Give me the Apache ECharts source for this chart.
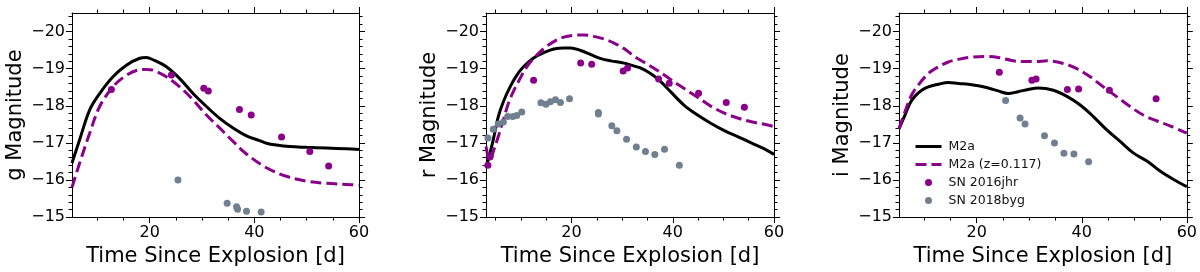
<!DOCTYPE html>
<html><head><meta charset="utf-8">
<script src="https://cdn.jsdelivr.net/npm/echarts@6/dist/echarts.min.js"></script>
<style>html,body{margin:0;padding:0;background:#fff}#c{width:1200px;height:272px}</style>
</head><body><div id="c"></div><script>
// ---- data ----
const xMajor = [20, 40, 60];
const xMinorA = [10, 15, 25, 30, 35, 45, 50, 55];
const xMinorB = [5, 10, 15, 25, 30, 35, 45, 50, 55];
const yMajor = [-20, -19, -18, -17, -16, -15];
const yMinor = [-20.4,-20.2,-19.8,-19.6,-19.4,-19.2,-18.8,-18.6,-18.4,-18.2,-17.8,-17.6,-17.4,-17.2,-16.8,-16.6,-16.4,-16.2,-15.8,-15.6,-15.4,-15.2];
const legendNames = ['M2a', 'M2a (z=0.117)', 'SN 2016jhr', 'SN 2018byg'];
const yNames = ['g Magnitude', 'r Magnitude', 'i Magnitude'];
const xName = 'Time Since Explosion [d]';

const gM2a = [[5.15,-16.46],[6.62,-17.09],[8.53,-17.89],[10.44,-18.33],[12.98,-18.78],[15.54,-19.09],[18.09,-19.28],[19.37,-19.30],[20.63,-19.24],[23.19,-19.05],[25.74,-18.73],[28.28,-18.33],[30.84,-17.98],[33.38,-17.66],[35.93,-17.40],[38.49,-17.19],[41.03,-17.06],[42.31,-16.99],[44.23,-16.94],[46.77,-16.90],[49.96,-16.88],[53.79,-16.86],[57.6,-16.84],[60,-16.82]];
const gM2aZ = [[5.15,-15.80],[6.62,-16.46],[8.53,-17.26],[10.44,-17.98],[12.98,-18.51],[15.54,-18.82],[18.09,-18.97],[19.37,-18.98],[20.63,-18.96],[23.19,-18.78],[25.74,-18.51],[28.28,-18.16],[30.84,-17.75],[33.38,-17.40],[35.93,-17.04],[38.49,-16.70],[42.31,-16.33],[46.1,-16.10],[49.96,-15.97],[53.79,-15.91],[57.6,-15.88],[60,-15.86]];
const gJhr = [[12.68,-18.44],[24.15,-18.83],[30.33,-18.47],[31.2,-18.40],[37.15,-17.90],[39.4,-17.75],[45.2,-17.16],[50.6,-16.77],[54.2,-16.38]];
const gByg = [[25.4,-16.0],[34.8,-15.37],[36.6,-15.28],[36.8,-15.21],[38.5,-15.16],[41.3,-15.14]];

const rM2a = [[3.1,-16.35],[3.54,-16.55],[4.54,-17.09],[5.53,-17.71],[6.53,-18.11],[7.86,-18.51],[9.17,-18.82],[10.5,-19.05],[12.5,-19.29],[14.5,-19.43],[16.5,-19.53],[18.47,-19.56],[19.8,-19.56],[21.8,-19.49],[23.8,-19.38],[25.8,-19.27],[27.76,-19.21],[30.4,-19.15],[32.4,-19.07],[33.6,-19.02],[35.6,-18.87],[37.57,-18.66],[39.56,-18.38],[42.2,-18.02],[44.9,-17.75],[47.5,-17.53],[50.2,-17.33],[52.8,-17.17],[55.5,-17.0],[58.1,-16.84],[60,-16.69]];
const rM2aZ = [[3.1,-16.9],[3.6,-16.6],[4.0,-16.55],[4.54,-16.77],[5.53,-17.17],[6.53,-17.62],[7.53,-18.07],[8.5,-18.38],[9.85,-18.74],[11.16,-19.05],[12.5,-19.27],[14.5,-19.54],[16.5,-19.73],[18.47,-19.85],[20.46,-19.90],[22.45,-19.91],[24.4,-19.87],[26.4,-19.80],[28.4,-19.69],[30.4,-19.54],[32.4,-19.33],[34.25,-19.18],[36.9,-18.96],[39.56,-18.71],[42.2,-18.47],[44.9,-18.23],[47.5,-17.99],[50.2,-17.80],[52.8,-17.67],[55.5,-17.57],[58.1,-17.5],[60,-17.44]];
const rJhr = [[3.48,-16.40],[3.88,-16.62],[12.5,-18.69],[21.8,-19.15],[23.98,-19.12],[30.2,-18.94],[31.07,-19.02],[37.2,-18.72],[39.3,-18.61],[45.1,-18.34],[50.57,-18.09],[54.15,-17.96]];
const rByg = [[3.48,-17.13],[4.54,-17.37],[5.53,-17.51],[6.53,-17.56],[7.38,-17.71],[8.38,-17.71],[9.17,-17.74],[10.17,-17.83],[13.95,-18.08],[14.95,-18.04],[15.82,-18.11],[16.82,-18.16],[17.8,-18.09],[19.6,-18.19],[25.3,-17.82],[25.3,-17.78],[27.96,-17.46],[28.96,-17.33],[30.87,-17.10],[32.8,-16.89],[34.6,-16.77],[36.45,-16.69],[38.37,-16.83],[41.3,-16.40]];

const iM2a = [[5.2,-17.38],[6.34,-17.75],[7.3,-18.07],[8.25,-18.26],[9.52,-18.42],[10.78,-18.51],[12.69,-18.58],[14.6,-18.63],[16.5,-18.60],[18.4,-18.58],[20.3,-18.54],[22.2,-18.48],[24.1,-18.40],[26.0,-18.33],[27.9,-18.38],[29.8,-18.44],[31.7,-18.48],[34.6,-18.42],[37.1,-18.26],[39.7,-18.02],[42.2,-17.71],[44.76,-17.35],[47.3,-17.04],[49.8,-16.73],[52.4,-16.51],[54.9,-16.24],[57.4,-16.02],[60,-15.82]];
const iM2aZ = [[5.2,-17.38],[6.34,-17.84],[7.6,-18.29],[8.88,-18.56],[10.78,-18.87],[12.69,-19.05],[14.6,-19.18],[16.5,-19.25],[19.05,-19.31],[21.6,-19.33],[24.1,-19.30],[26.7,-19.22],[28.6,-19.19],[31.1,-19.19],[33.5,-19.21],[36.5,-19.14],[39.05,-19.0],[41.6,-18.78],[44.1,-18.51],[46.7,-18.24],[49.2,-17.98],[51.7,-17.75],[54.3,-17.59],[56.8,-17.46],[60,-17.26]];
const iJhr = [[24.3,-18.90],[30.5,-18.69],[31.3,-18.72],[37.26,-18.44],[39.4,-18.45],[45.26,-18.42],[54.15,-18.19]];
const iByg = [[25.5,-18.14],[28.25,-17.67],[29.2,-17.51],[32.9,-17.19],[34.8,-17.0],[36.6,-16.72],[38.5,-16.70],[41.3,-16.49]];

// ---- layout / style ----
const FONT = 'DejaVu Sans';
const PURPLE = '#8b008b';
const GRAY = '#708090';
const panels = [
  {left: 72, width: 287, xmin: 5.15, xMinor: xMinorA, m: gM2a, mz: gM2aZ, jhr: gJhr, byg: gByg},
  {left: 486, width: 288, xmin: 3.1, xMinor: xMinorB, m: rM2a, mz: rM2aZ, jhr: rJhr, byg: rByg},
  {left: 899, width: 288, xmin: 5.2, xMinor: xMinorA, m: iM2a, mz: iM2aZ, jhr: iJhr, byg: iByg}
];
const TOP = 13, HEIGHT = 205;
const minus = v => (v < 0 ? '\u2212' : '') + Math.abs(v);

const grid = [], xAxis = [], yAxis = [], series = [];
panels.forEach((p, i) => {
  grid.push({left: p.left, top: TOP, width: p.width, height: HEIGHT, containLabel: false});
  const xb = {gridIndex: i, type: 'value', min: p.xmin, max: 60, splitLine: {show: false}};
  const yb = {gridIndex: i, type: 'value', min: -20.5, max: -15, inverse: true, splitLine: {show: false}};
  const line = {show: true, onZero: false, lineStyle: {color: '#000', width: 1}};
  const tick = (vals, len) => ({show: true, inside: false, length: len, customValues: vals, lineStyle: {color: '#000', width: 1}});
  const xi = xAxis.length, yi = yAxis.length;
  xAxis.push(Object.assign({}, xb, {position: 'bottom', axisLine: line, axisTick: tick(xMajor, 6),
    axisLabel: {show: true, customValues: xMajor, margin: 8, fontSize: 16, fontFamily: FONT, color: '#000'},
    name: xName, nameLocation: 'middle', nameGap: 25, nameTextStyle: {fontSize: 21, fontFamily: FONT, color: '#000'}}));
  xAxis.push(Object.assign({}, xb, {position: 'bottom', axisLine: {show: false}, axisTick: tick(p.xMinor, 3.5), axisLabel: {show: false}}));
  xAxis.push(Object.assign({}, xb, {position: 'top', axisLine: line, axisTick: tick(xMajor, 6), axisLabel: {show: false}}));
  xAxis.push(Object.assign({}, xb, {position: 'top', axisLine: {show: false}, axisTick: tick(p.xMinor, 3.5), axisLabel: {show: false}}));
  yAxis.push(Object.assign({}, yb, {position: 'left', axisLine: line, axisTick: tick(yMajor, 6),
    axisLabel: {show: true, customValues: yMajor, margin: 7, fontSize: 16, fontFamily: FONT, color: '#000', formatter: minus},
    name: yNames[i], nameLocation: 'middle', nameGap: 46, nameRotate: 90, nameTextStyle: {fontSize: 21, fontFamily: FONT, color: '#000'}}));
  yAxis.push(Object.assign({}, yb, {position: 'left', axisLine: {show: false}, axisTick: tick(yMinor, 3.5), axisLabel: {show: false}}));
  yAxis.push(Object.assign({}, yb, {position: 'right', axisLine: line, axisTick: tick(yMajor, 6), axisLabel: {show: false}}));
  yAxis.push(Object.assign({}, yb, {position: 'right', axisLine: {show: false}, axisTick: tick(yMinor, 3.5), axisLabel: {show: false}}));

  series.push({name: legendNames[0], type: 'line', xAxisIndex: xi, yAxisIndex: yi, data: p.m, symbol: 'none', smooth: 0.35,
    color: '#000', lineStyle: {color: '#000', width: 3}, z: 3, clip: true});
  series.push({name: legendNames[1], type: 'line', xAxisIndex: xi, yAxisIndex: yi, data: p.mz, symbol: 'none', smooth: 0.35,
    color: PURPLE, lineStyle: {color: PURPLE, width: 3, type: [11, 5]}, z: 3, clip: true});
  series.push({name: legendNames[2], type: 'scatter', xAxisIndex: xi, yAxisIndex: yi, data: p.jhr, symbol: 'circle', symbolSize: 7,
    itemStyle: {color: PURPLE, opacity: 1}, z: 4});
  series.push({name: legendNames[3], type: 'scatter', xAxisIndex: xi, yAxisIndex: yi, data: p.byg, symbol: 'circle', symbolSize: 7,
    itemStyle: {color: GRAY, opacity: 1}, z: 4});
});

const chart = echarts.init(document.getElementById('c'), null, {renderer: 'canvas'});
chart.setOption({
  animation: false,
  backgroundColor: '#fff',
  grid, xAxis, yAxis, series,
  legend: {
    orient: 'vertical', left: 909, top: 135, itemWidth: 26, itemHeight: 7, itemGap: 5,
    symbolKeepAspect: false,
    textStyle: {fontSize: 12.5, fontFamily: FONT, color: '#111', padding: [0, 0, 0, 2]},
    lineStyle: {width: 3},
    data: [
      {name: legendNames[0], itemStyle: {opacity: 0}},
      {name: legendNames[1], itemStyle: {opacity: 0}},
      {name: legendNames[2]},
      {name: legendNames[3]}
    ],
    selectedMode: false
  }
});
</script></body></html>
